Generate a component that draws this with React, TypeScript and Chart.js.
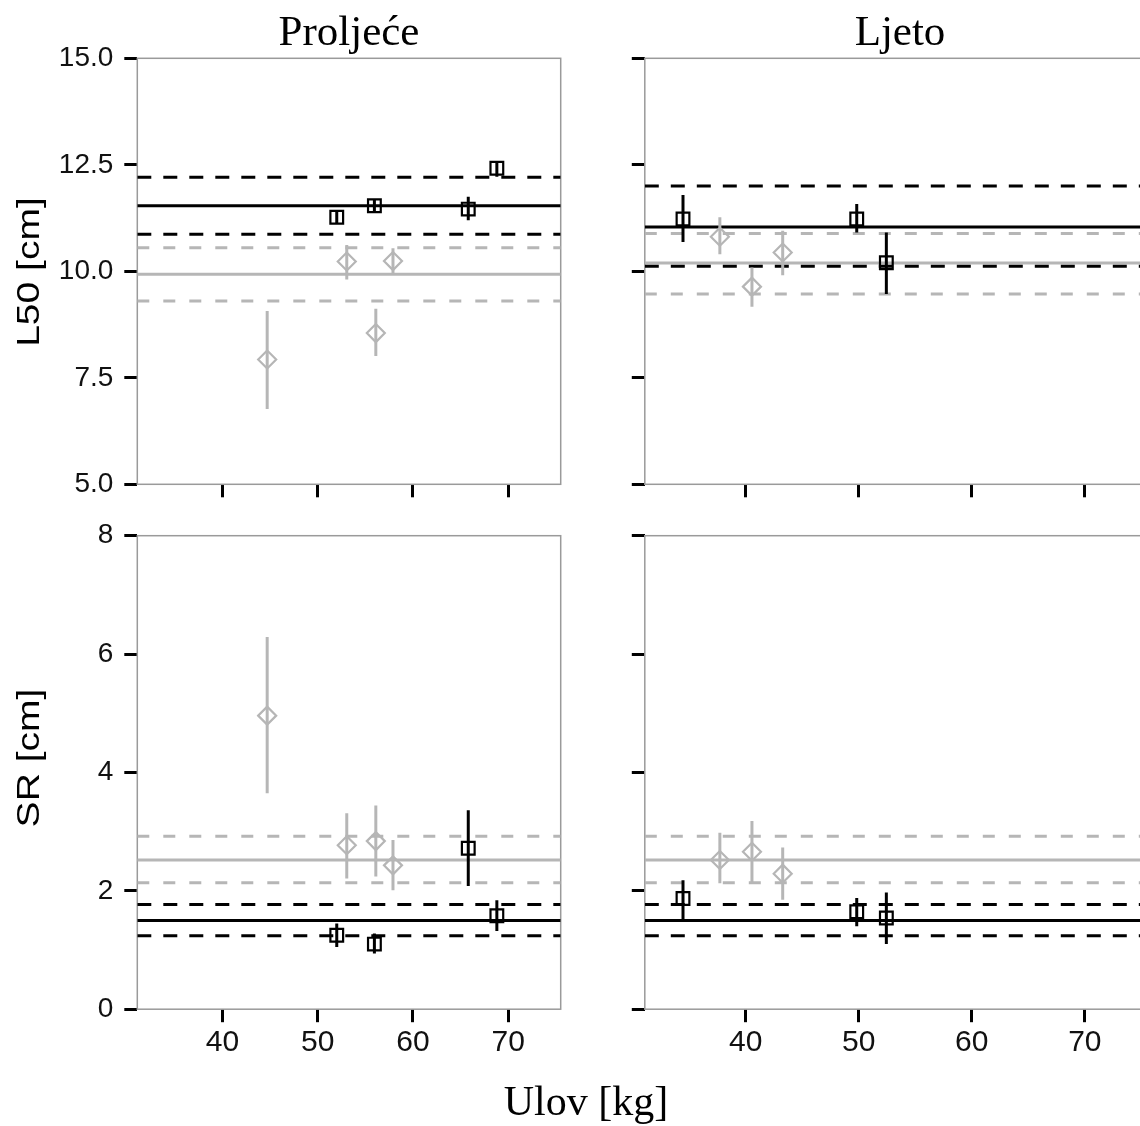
import React, { useEffect, useRef } from 'react';
import { Chart, registerables } from 'chart.js';

Chart.register(...registerables);

// ---------- axes ----------
const X_MIN = 31.07;
const X_MAX = 75.5;
const xTickValues = [40, 50, 60, 70];
const l50TickValues = [5, 7.5, 10, 12.5, 15];
const l50TickLabels = ['5.0', '7.5', '10.0', '12.5', '15.0'];
const srTickValues = [0, 2, 4, 6, 8];
const srTickLabels = ['0', '2', '4', '6', '8'];

const panelTitles = ['Proljeće', 'Ljeto'];
const yTitles = ['L50 [cm]', 'SR [cm]'];
const xTitle = 'Ulov [kg]';

// ---------- Proljeće (spring) ----------
const sprSqX = [52.0, 55.95, 65.8, 68.8];
const sprDiX = [44.7, 53.05, 56.1, 57.9];

const sprL50Sq = [11.27, 11.54, 11.46, 12.42];
const sprL50SqLo = [11.13, 11.4, 11.2, 12.22];
const sprL50SqHi = [11.41, 11.68, 11.75, 12.57];
const sprL50Di = [7.93, 10.23, 8.55, 10.24];
const sprL50DiLo = [6.77, 9.81, 8.01, 9.95];
const sprL50DiHi = [9.07, 10.62, 9.12, 10.54];
const sprL50Black = [11.54, 10.87, 12.21]; // mean, lower, upper
const sprL50Gray = [9.93, 9.3, 10.55];

const sprSRSq = [1.25, 1.1, 2.72, 1.58];
const sprSRSqLo = [1.05, 0.94, 2.08, 1.32];
const sprSRSqHi = [1.45, 1.28, 3.36, 1.84];
const sprSRDi = [4.96, 2.77, 2.84, 2.43];
const sprSRDiLo = [3.65, 2.21, 2.24, 2.01];
const sprSRDiHi = [6.29, 3.31, 3.44, 2.86];
const sprSRBlack = [1.5, 1.24, 1.77];
const sprSRGray = [2.52, 2.135, 2.92];

// ---------- Ljeto (summer) ----------
const sumSqX = [34.45, 49.82, 52.44];
const sumDiX = [37.71, 40.55, 43.27];

const sumL50Sq = [11.23, 11.23, 10.2];
const sumL50SqLo = [10.69, 10.91, 9.47];
const sumL50SqHi = [11.79, 11.58, 10.91];
const sumL50Di = [10.81, 9.64, 10.44];
const sumL50DiLo = [10.4, 9.17, 9.91];
const sumL50DiHi = [11.27, 10.09, 10.95];
const sumL50Black = [11.04, 10.12, 12.0];
const sumL50Gray = [10.195, 9.47, 10.89];

const sumSRSq = [1.87, 1.645, 1.54];
const sumSRSqLo = [1.5, 1.4, 1.1];
const sumSRSqHi = [2.18, 1.88, 1.97];
const sumSRDi = [2.52, 2.66, 2.29];
const sumSRDiLo = [2.13, 2.15, 1.85];
const sumSRDiHi = [2.98, 3.18, 2.73];
const sumSRBlack = [1.5, 1.24, 1.77];
const sumSRGray = [2.52, 2.135, 2.92];

// ---------- styles ----------
const BLACK = '#000000';
const GRAY = '#b6b6b6';
const FRAME = '#9a9a9a';
const SANS = '"Liberation Sans", Arial, sans-serif';
const SERIF = '"Liberation Serif", "Times New Roman", serif';

type Series = {
  sqX: number[]; sq: number[]; sqLo: number[]; sqHi: number[];
  diX: number[]; di: number[]; diLo: number[]; diHi: number[];
  black: number[]; gray: number[];
};

const framePlugin = {
  id: 'frameBox',
  beforeDatasetsDraw(chart: any) {
    const { ctx, chartArea: a } = chart;
    ctx.save();
    ctx.strokeStyle = FRAME;
    ctx.lineWidth = 1.5;
    ctx.strokeRect(a.left, a.top, a.right - a.left, a.bottom - a.top);
    ctx.restore();
  },
};

function errPoints(xs: number[], lo: number[], hi: number[]) {
  const out: any[] = [];
  xs.forEach((x, i) => {
    out.push({ x, y: lo[i] });
    out.push({ x, y: hi[i] });
    out.push({ x, y: null });
  });
  return out;
}

function hLine(v: number, color: string, width: number, dash: number[]) {
  return {
    type: 'line',
    data: [{ x: X_MIN, y: v }, { x: X_MAX, y: v }],
    borderColor: color,
    borderWidth: width,
    borderDash: dash,
    pointRadius: 0,
    fill: false,
    tension: 0,
  };
}

function buildDatasets(s: Series) {
  return [
    {
      type: 'scatter',
      data: s.sqX.map((x, i) => ({ x, y: s.sq[i] })),
      pointStyle: 'rect',
      pointRadius: 9,
      pointHoverRadius: 9,
      borderColor: BLACK,
      backgroundColor: 'rgba(0,0,0,0)',
      borderWidth: 2.2,
    },
    {
      type: 'scatter',
      data: s.diX.map((x, i) => ({ x, y: s.di[i] })),
      pointStyle: 'rectRot',
      pointRadius: 9,
      pointHoverRadius: 9,
      borderColor: GRAY,
      backgroundColor: 'rgba(0,0,0,0)',
      borderWidth: 2.2,
    },
    {
      type: 'line',
      data: errPoints(s.sqX, s.sqLo, s.sqHi),
      borderColor: BLACK,
      borderWidth: 3,
      pointRadius: 0,
      spanGaps: false,
      fill: false,
    },
    {
      type: 'line',
      data: errPoints(s.diX, s.diLo, s.diHi),
      borderColor: GRAY,
      borderWidth: 3,
      pointRadius: 0,
      spanGaps: false,
      fill: false,
    },
    hLine(s.black[0], BLACK, 3, []),
    hLine(s.black[1], BLACK, 3, [14, 12]),
    hLine(s.black[2], BLACK, 3, [14, 12]),
    hLine(s.gray[0], GRAY, 3, []),
    hLine(s.gray[1], GRAY, 3, [12, 14]),
    hLine(s.gray[2], GRAY, 3, [12, 14]),
  ];
}

type PanelSpec = {
  cx: number; cy: number; cw: number; ch: number;
  l: number; t: number; r: number; b: number;
  yMin: number; yMax: number; yTicks: number[]; yLabels: string[];
  showY: boolean; showX: boolean; series: Series;
};

const panels: PanelSpec[] = [
  {
    cx: 0, cy: 25, cw: 590, ch: 500, l: 137.3, t: 58.3, r: 560.7, b: 484.3,
    yMin: 5, yMax: 15, yTicks: l50TickValues, yLabels: l50TickLabels, showY: true, showX: false,
    series: { sqX: sprSqX, sq: sprL50Sq, sqLo: sprL50SqLo, sqHi: sprL50SqHi, diX: sprDiX, di: sprL50Di, diLo: sprL50DiLo, diHi: sprL50DiHi, black: sprL50Black, gray: sprL50Gray },
  },
  {
    cx: 600, cy: 25, cw: 580, ch: 500, l: 644.8, t: 58.3, r: 1147, b: 484.3,
    yMin: 5, yMax: 15, yTicks: l50TickValues, yLabels: l50TickLabels, showY: false, showX: false,
    series: { sqX: sumSqX, sq: sumL50Sq, sqLo: sumL50SqLo, sqHi: sumL50SqHi, diX: sumDiX, di: sumL50Di, diLo: sumL50DiLo, diHi: sumL50DiHi, black: sumL50Black, gray: sumL50Gray },
  },
  {
    cx: 0, cy: 505, cw: 590, ch: 590, l: 137.3, t: 535.7, r: 560.7, b: 1009.2,
    yMin: 0, yMax: 8, yTicks: srTickValues, yLabels: srTickLabels, showY: true, showX: true,
    series: { sqX: sprSqX, sq: sprSRSq, sqLo: sprSRSqLo, sqHi: sprSRSqHi, diX: sprDiX, di: sprSRDi, diLo: sprSRDiLo, diHi: sprSRDiHi, black: sprSRBlack, gray: sprSRGray },
  },
  {
    cx: 600, cy: 505, cw: 580, ch: 590, l: 644.8, t: 535.7, r: 1147, b: 1009.2,
    yMin: 0, yMax: 8, yTicks: srTickValues, yLabels: srTickLabels, showY: false, showX: true,
    series: { sqX: sumSqX, sq: sumSRSq, sqLo: sumSRSqLo, sqHi: sumSRSqHi, diX: sumDiX, di: sumSRDi, diLo: sumSRDiLo, diHi: sumSRDiHi, black: sumSRBlack, gray: sumSRGray },
  },
];

function Panel({ spec }: { spec: PanelSpec }) {
  const ref = useRef<HTMLCanvasElement | null>(null);
  useEffect(() => {
    if (!ref.current) return;
    const padTop = spec.t - spec.cy;
    const padRight = spec.cx + spec.cw - spec.r;
    const yW = spec.l - spec.cx;
    const xH = spec.cy + spec.ch - spec.b;
    const tickGrid = {
      display: true,
      drawOnChartArea: false,
      drawTicks: true,
      tickLength: 13,
      tickWidth: 3,
      tickColor: BLACK,
    };
    const chart = new Chart(ref.current, {
      type: 'scatter',
      data: { datasets: buildDatasets(spec.series) as any },
      options: {
        animation: false,
        responsive: false,
        maintainAspectRatio: false,
        events: [],
        layout: { padding: { left: 0, top: padTop, right: padRight, bottom: 0 } },
        plugins: {
          legend: { display: false },
          tooltip: { enabled: false },
          title: { display: false },
        },
        scales: {
          x: {
            type: 'linear',
            min: X_MIN,
            max: X_MAX,
            afterBuildTicks: (axis: any) => {
              axis.ticks = xTickValues.map((v) => ({ value: v }));
            },
            afterFit: (axis: any) => {
              axis.height = xH;
            },
            grid: tickGrid,
            border: { display: false },
            ticks: {
              display: spec.showX,
              autoSkip: false,
              maxRotation: 0,
              color: '#111',
              padding: 3,
              font: { family: SANS, size: 30 },
              callback: (v: any) => String(v),
            },
          },
          y: {
            type: 'linear',
            min: spec.yMin,
            max: spec.yMax,
            afterBuildTicks: (axis: any) => {
              axis.ticks = spec.yTicks.map((v) => ({ value: v }));
            },
            afterFit: (axis: any) => {
              axis.width = yW;
            },
            grid: tickGrid,
            border: { display: false },
            ticks: {
              display: spec.showY,
              autoSkip: false,
              color: '#111',
              padding: 11,
              font: { family: SANS, size: 28 },
              callback: (v: any) => {
                const i = spec.yTicks.indexOf(Number(v));
                return i >= 0 ? spec.yLabels[i] : '';
              },
            },
          },
        },
      } as any,
      plugins: [framePlugin],
    });
    return () => chart.destroy();
  }, [spec]);
  return (
    <canvas
      ref={ref}
      width={spec.cw}
      height={spec.ch}
      style={{ position: 'absolute', left: spec.cx, top: spec.cy, width: spec.cw, height: spec.ch }}
    />
  );
}

function Label({ text, cx, top, size, family }: { text: string; cx: number; top: number; size: number; family: string }) {
  return (
    <div
      style={{
        position: 'absolute',
        left: cx - 250,
        top,
        width: 500,
        textAlign: 'center',
        fontFamily: family,
        fontSize: size,
        lineHeight: 1,
        color: '#000',
        whiteSpace: 'nowrap',
      }}
    >
      {text}
    </div>
  );
}

function VLabel({ text, cx, cy }: { text: string; cx: number; cy: number }) {
  return (
    <div
      style={{
        position: 'absolute',
        left: cx - 150,
        top: cy - 16,
        width: 300,
        height: 32,
        lineHeight: '32px',
        textAlign: 'center',
        fontFamily: SANS,
        fontSize: 32,
        color: '#000',
        whiteSpace: 'nowrap',
        transform: 'rotate(-90deg) scaleX(1.22)',
        transformOrigin: '50% 50%',
      }}
    >
      {text}
    </div>
  );
}

export default function App() {
  return (
    <div
      style={{
        position: 'absolute',
        left: 0,
        top: 0,
        width: 1140,
        height: 1126,
        overflow: 'hidden',
        background: '#ffffff',
      }}
    >
      {panels.map((p, i) => (
        <Panel key={i} spec={p} />
      ))}
      <Label text={panelTitles[0]} cx={349} top={9} size={43} family={SERIF} />
      <Label text={panelTitles[1]} cx={900} top={9} size={43} family={SERIF} />
      <Label text={xTitle} cx={586} top={1080} size={42} family={SERIF} />
      <VLabel text={yTitles[0]} cx={28} cy={272} />
      <VLabel text={yTitles[1]} cx={28} cy={758} />
    </div>
  );
}
